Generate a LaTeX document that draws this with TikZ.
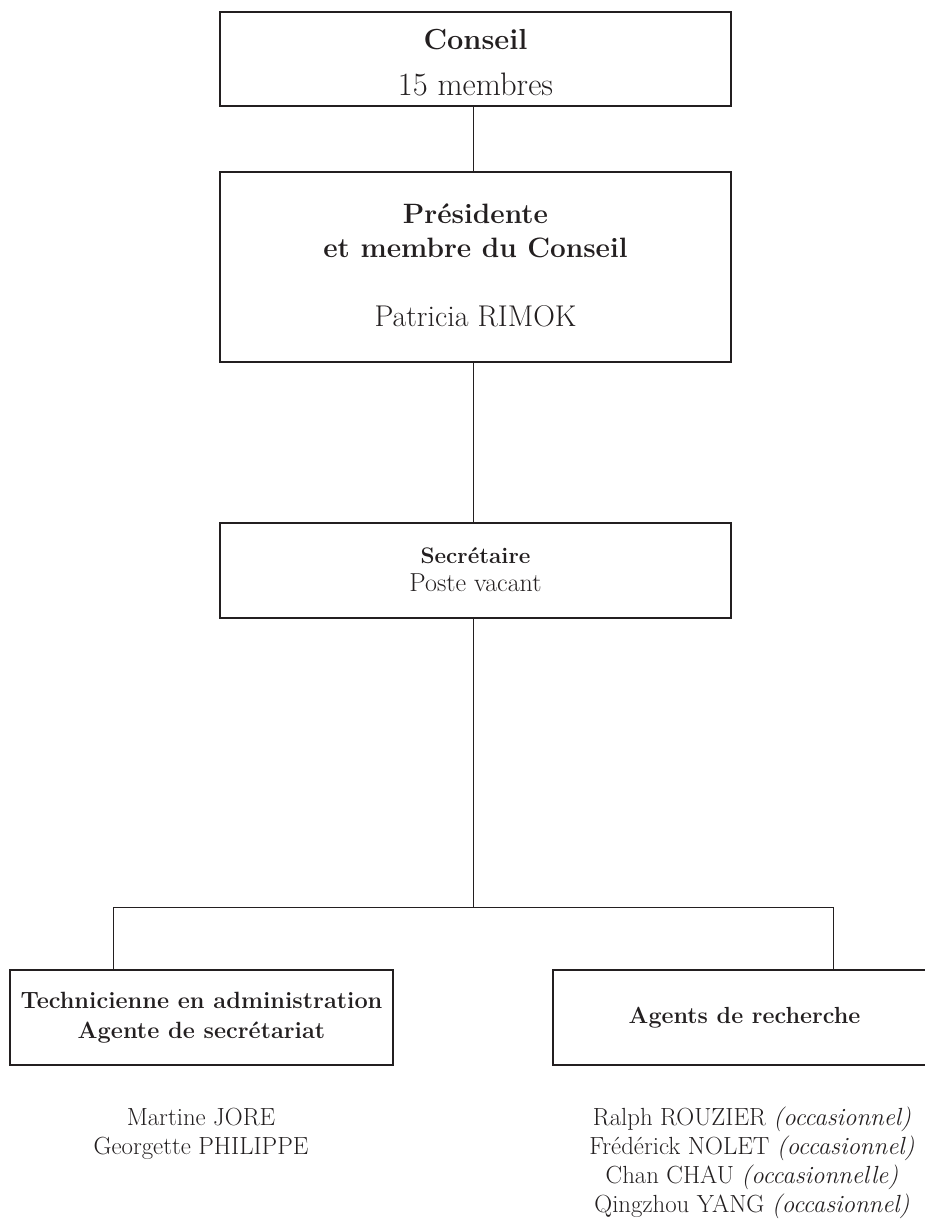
\documentclass[tikz,border=0pt]{standalone}
\usepackage{fontspec}
\definecolor{ink}{RGB}{35,31,32}
\newcommand{\fsz}[2]{\fontsize{#1}{#2}\selectfont}
\begin{document}
\begin{tikzpicture}[x=1pt,y=-1pt,
  orgbox/.style={draw=ink, line width=1.2pt, rectangle, inner sep=0pt, align=center, text=ink},
  namelist/.style={inner sep=0pt, align=center, text=ink},
  conn/.style={draw=ink, line width=1pt}]
\useasboundingbox (0,0) rectangle (925,1219);
\clip (0,0) rectangle (925,1219);
\coordinate (spine) at (473,0);
\coordinate (jL) at (113,907);
\coordinate (jR) at (833,907);

\node[orgbox, minimum width=511pt, minimum height=94pt, font=\fsz{29}{46}] (conseil) at (475.5,59)
  {\rule{0pt}{30pt}\textbf{Conseil}\\{\fsz{32.5}{46}15 membres}\rule[-4pt]{0pt}{4pt}};

\node[orgbox, minimum width=511pt, minimum height=190pt, font=\fsz{28}{34}] (pres) at (475.5,267)
  {\rule{0pt}{23pt}\textbf{Présidente}\\\textbf{et membre du Conseil}\\[35pt]{\fsz{30}{34}Patricia RIMOK}\rule[-8pt]{0pt}{8pt}};

\node[orgbox, minimum width=511pt, minimum height=95pt, font=\fsz{22.5}{28}] (sec) at (475.5,570.5)
  {\rule{0pt}{19pt}\textbf{Secrétaire}\\{\fsz{26}{28}Poste vacant}\rule[-6pt]{0pt}{6pt}};

\node[orgbox, minimum width=383pt, minimum height=95pt, font=\fsz{23.5}{30}] (tech) at (201.5,1017.5)
  {\rule{0pt}{18pt}\textbf{Technicienne en administration}\\\textbf{Agente de secrétariat}\rule[-7pt]{0pt}{7pt}};

\node[orgbox, minimum width=383pt, minimum height=95pt, font=\fsz{23.3}{30}] (agents) at (744.5,1017.5)
  {\rule{0pt}{17pt}\textbf{Agents de recherche}\rule[-6pt]{0pt}{6pt}};

\node[namelist, font=\fsz{24.8}{29}] (techstaff) at (201,1134)
  {\rule{0pt}{17pt}Martine JORE\\Georgette PHILIPPE\rule[-6pt]{0pt}{6pt}};

\node[namelist, font=\fsz{24.8}{29}] (agentstaff) at (752,1163)
  {\rule{0pt}{17pt}Ralph ROUZIER \textit{(occasionnel)}\\Frédérick NOLET \textit{(occasionnel)}\\Chan CHAU \textit{(occasionnelle)}\\Qingzhou YANG \textit{(occasionnel)}\rule[-6pt]{0pt}{6pt}};

\draw[conn] (conseil.south -| spine) -- (pres.north -| spine);
\draw[conn] (pres.south -| spine) -- (sec.north -| spine);
\draw[conn] (sec.south -| spine) -- (spine |- jL);
\draw[conn] (tech.north -| jL) -- (jL) -- (jR) -- (agents.north -| jR);
\end{tikzpicture}
\end{document}
